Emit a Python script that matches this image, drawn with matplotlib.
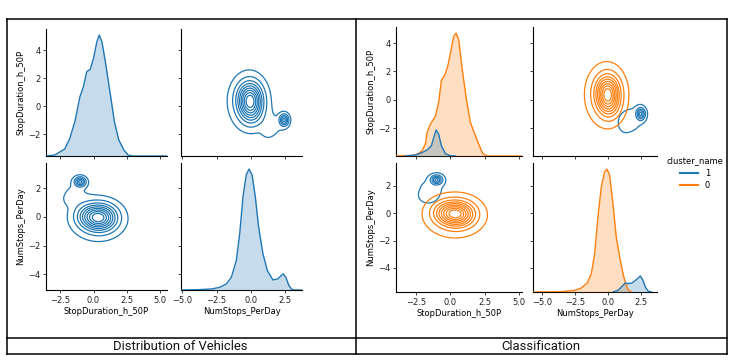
import numpy as np
import matplotlib.pyplot as plt
from matplotlib.lines import Line2D

W, H = 733, 361
BLUE = '#1f77b4'
ORANGE = '#ff7f0e'

# diagonal density curves (x in data units, height in arbitrary units)
# left panel: all vehicles
stopdur_x = [-3.55, -2.92, -2.16, -1.78, -1.40, -1.02, -0.76, -0.51, -0.25, 0.0, 0.25, 0.43,
             0.63, 0.89, 1.27, 1.57, 1.90, 2.28, 2.59, 2.92, 5.5]
stopdur_y = [0, 3, 21, 53, 103, 178, 208, 253, 260, 293, 343, 363,
             343, 283, 183, 103, 48, 18, 3, 0, 0]
numstops_x = [-5.06, -3.84, -2.87, -2.26, -1.78, -1.41, -1.05, -0.80, -0.56, -0.32, -0.12, 0.10,
              0.34, 0.58, 0.90, 1.22, 1.63, 1.99, 2.24, 2.38, 2.58, 2.80, 3.02, 3.2, 3.75]
numstops_y = [0, 1, 3, 8, 18, 38, 88, 168, 278, 343, 360, 343,
              278, 188, 108, 58, 30, 33, 43, 48, 38, 13, 2, 0, 0]

# right panel: per cluster
sd0_x = [-3.95, -2.54, -2.06, -1.82, -1.69, -1.45, -1.09, -0.85, -0.65, -0.41, -0.17, 0.07,
         0.24, 0.41, 0.61, 0.85, 1.14, 1.45, 1.82, 2.11, 2.35, 2.66, 5.2]
sd0_y = [0, 2, 15, 35, 70, 95, 118, 160, 225, 240, 270, 320,
         355, 365, 345, 260, 175, 100, 60, 30, 7, 0, 0]
sd1_x = [-3.27, -2.54, -2.06, -1.69, -1.38, -1.21, -1.04, -0.85, -0.65, -0.36, 0.0, 0.36]
sd1_y = [0, 3, 10, 18, 30, 55, 77, 65, 30, 7, 1, 0]
ns0_x = [-5.69, -3.55, -2.54, -2.04, -1.59, -1.28, -1.03, -0.78, -0.53, -0.28, -0.10, 0.10,
         0.35, 0.60, 0.86, 1.11, 1.31, 1.49, 1.74]
ns0_y = [0, 1, 5, 12, 27, 55, 115, 225, 315, 360, 368, 350,
         265, 165, 105, 55, 25, 7, 0]
ns1_x = [0.35, 0.73, 1.03, 1.28, 1.49, 1.79, 2.12, 2.42, 2.62, 2.80, 3.0, 3.25]
ns1_y = [0, 5, 17, 27, 25, 27, 37, 48, 35, 15, 3, 0]

# blobs of the 2D density (StopDuration, NumStops)
c0_mx = [0.45, -0.5, 0.3]
c0_my = [-0.05, 0.1, -0.25]
c0_sx = [0.75, 0.6, 1.2]
c0_sy = [0.55, 0.5, 0.85]
c0_w = [0.65, 0.1, 0.17]
c1_mx = [-1.0, -1.65, -1.4]
c1_my = [2.45, 1.2, 1.8]
c1_sx = [0.25, 0.4, 0.85]
c1_sy = [0.2, 0.3, 0.7]
c1_w = [0.04, 0.008, 0.035]

var_sd = 'StopDuration_h_50P'
var_ns = 'NumStops_PerDay'


def mixture(gx, gy, mx, my, sx, sy, w):
    z = np.zeros_like(gx)
    for a, b, c, d, e in zip(mx, my, sx, sy, w):
        z += e * np.exp(-0.5 * ((gx - a) / c) ** 2 - 0.5 * ((gy - b) / d) ** 2) / (2 * np.pi * c * d)
    return z


def iso_levels(dens, props):
    vals = np.concatenate([d.ravel() for d in dens])
    s = np.sort(vals)[::-1]
    cum = np.cumsum(s) / s.sum()
    idx = np.searchsorted(cum, 1 - props)
    return np.take(s, idx, mode='clip')


fig = plt.figure(figsize=(W / 100, H / 100), dpi=100)
plt.rcParams['font.family'] = ['DejaVu Sans']


def px_axes(x0, y0, x1, y1):
    ax = fig.add_axes([x0 / W, 1 - y1 / H, (x1 - x0) / W, (y1 - y0) / H])
    ax.spines['top'].set_visible(False)
    ax.spines['right'].set_visible(False)
    for s in ['left', 'bottom']:
        ax.spines[s].set_linewidth(0.8)
    ax.tick_params(labelsize=6, length=2.5, width=0.6, pad=1.5, colors='#222222')
    return ax


def diag(ax, curves):
    tw = ax.twinx()
    tw.axis('off')
    top = 0
    for xs, ys, col in curves:
        tw.fill_between(xs, ys, color=col, alpha=0.25, lw=0)
        tw.plot(xs, ys, color=col, lw=1)
        top = max(top, max(ys))
    tw.set_ylim(0, top * 1.05)


def contours(ax, xlim, ylim, comps, flip):
    gx, gy = np.meshgrid(np.linspace(*xlim, 250), np.linspace(*ylim, 250))
    dens = []
    for c in comps:
        mx, my, sx, sy, w = c[:5]
        if flip:
            dens.append(mixture(gx, gy, my, mx, sy, sx, w))
        else:
            dens.append(mixture(gx, gy, mx, my, sx, sy, w))
    lv = iso_levels(dens, np.linspace(0.05, 1, 10))
    for d, c in zip(dens, comps):
        ax.contour(gx, gy, d, levels=lv, colors=c[5], linewidths=0.9)


def pair_panel(xs, ys, xl0, xl1, yl0, yl1, diag0, diag1, groups):
    # xs, ys: pixel edges of the 2 columns / 2 rows
    axs = [[px_axes(xs[0][0], ys[0][0], xs[0][1], ys[0][1]),
            px_axes(xs[1][0], ys[0][0], xs[1][1], ys[0][1])],
           [px_axes(xs[0][0], ys[1][0], xs[0][1], ys[1][1]),
            px_axes(xs[1][0], ys[1][0], xs[1][1], ys[1][1])]]
    axs[0][0].set_xlim(*xl0)
    axs[1][0].set_xlim(*xl0)
    axs[0][1].set_xlim(*xl1)
    axs[1][1].set_xlim(*xl1)
    axs[0][0].set_ylim(*yl0)
    axs[0][1].set_ylim(*yl0)
    axs[1][0].set_ylim(*yl1)
    axs[1][1].set_ylim(*yl1)
    for r in range(2):
        for c in range(2):
            ax = axs[r][c]
            ax.set_xticks([-2.5, 0, 2.5, 5.0] if c == 0 else [-5.0, -2.5, 0, 2.5])
            ax.set_yticks([-2, 0, 2, 4] if r == 0 else [-4, -2, 0, 2])
            if r == 0:
                ax.set_xticklabels([])
            if c == 1:
                ax.set_yticklabels([])
    axs[1][0].set_xlabel(var_sd, fontsize=6, labelpad=2)
    axs[1][1].set_xlabel(var_ns, fontsize=6, labelpad=2)
    axs[0][0].set_ylabel(var_sd, fontsize=6, labelpad=2)
    axs[1][0].set_ylabel(var_ns, fontsize=6, labelpad=2)
    contours(axs[0][1], xl1, yl0, groups, True)
    contours(axs[1][0], xl0, yl1, groups, False)
    diag(axs[0][0], diag0)
    diag(axs[1][1], diag1)


# left: all vehicles, one combined density
all_comp = (c0_mx + c1_mx, c0_my + c1_my, c0_sx + c1_sx, c0_sy + c1_sy, c0_w + c1_w, BLUE)
pair_panel([(46, 167), (181, 302)], [(29, 156), (163, 290)],
           (-3.57, 5.52), (-5.1, 3.76), (-3.57, 5.52), (-5.1, 3.76),
           [(stopdur_x, stopdur_y, BLUE)], [(numstops_x, numstops_y, BLUE)],
           [all_comp])

# right: two clusters
g1 = (c1_mx, c1_my, c1_sx, c1_sy, c1_w, BLUE)
g0 = (c0_mx, c0_my, c0_sx, c0_sy, c0_w, ORANGE)
pair_panel([(396, 522), (533, 657)], [(27, 156), (163, 292)],
           (-3.95, 5.2), (-5.69, 3.68), (-3.97, 5.13), (-5.76, 3.68),
           [(sd0_x, sd0_y, ORANGE), (sd1_x, sd1_y, BLUE)],
           [(ns0_x, ns0_y, ORANGE), (ns1_x, ns1_y, BLUE)],
           [g1, g0])

handles = [Line2D([], [], color=BLUE, lw=1.5), Line2D([], [], color=ORANGE, lw=1.5)]
fig.legend(handles, ['1', '0'], title='cluster_name', loc='center',
           bbox_to_anchor=(695 / W, 1 - 173 / H), frameon=False, fontsize=6,
           title_fontsize=6, handlelength=2.2, labelspacing=0.4, borderpad=0.2)

# table frame around the two plots
def hline(x0, x1, y):
    fig.add_artist(Line2D([x0 / W, x1 / W], [1 - y / H, 1 - y / H], color='black', lw=1.1))


def vline(x, y0, y1):
    fig.add_artist(Line2D([x / W, x / W], [1 - y0 / H, 1 - y1 / H], color='black', lw=1.1))


hline(6.5, 726.5, 18.5)
hline(6.5, 726.5, 337.5)
hline(6.5, 726.5, 353.5)
vline(6.5, 18.5, 353.5)
vline(355.5, 18.5, 353.5)
vline(726.5, 18.5, 353.5)

fig.text(180.5 / W, 1 - 346 / H, 'Distribution of Vehicles', ha='center', va='center',
         fontsize=9.4, family='Roboto', color='#111111')
fig.text(541 / W, 1 - 346 / H, 'Classification', ha='center', va='center',
         fontsize=9.4, family='Roboto', color='#111111')

fig.savefig('out.png', dpi=100)
